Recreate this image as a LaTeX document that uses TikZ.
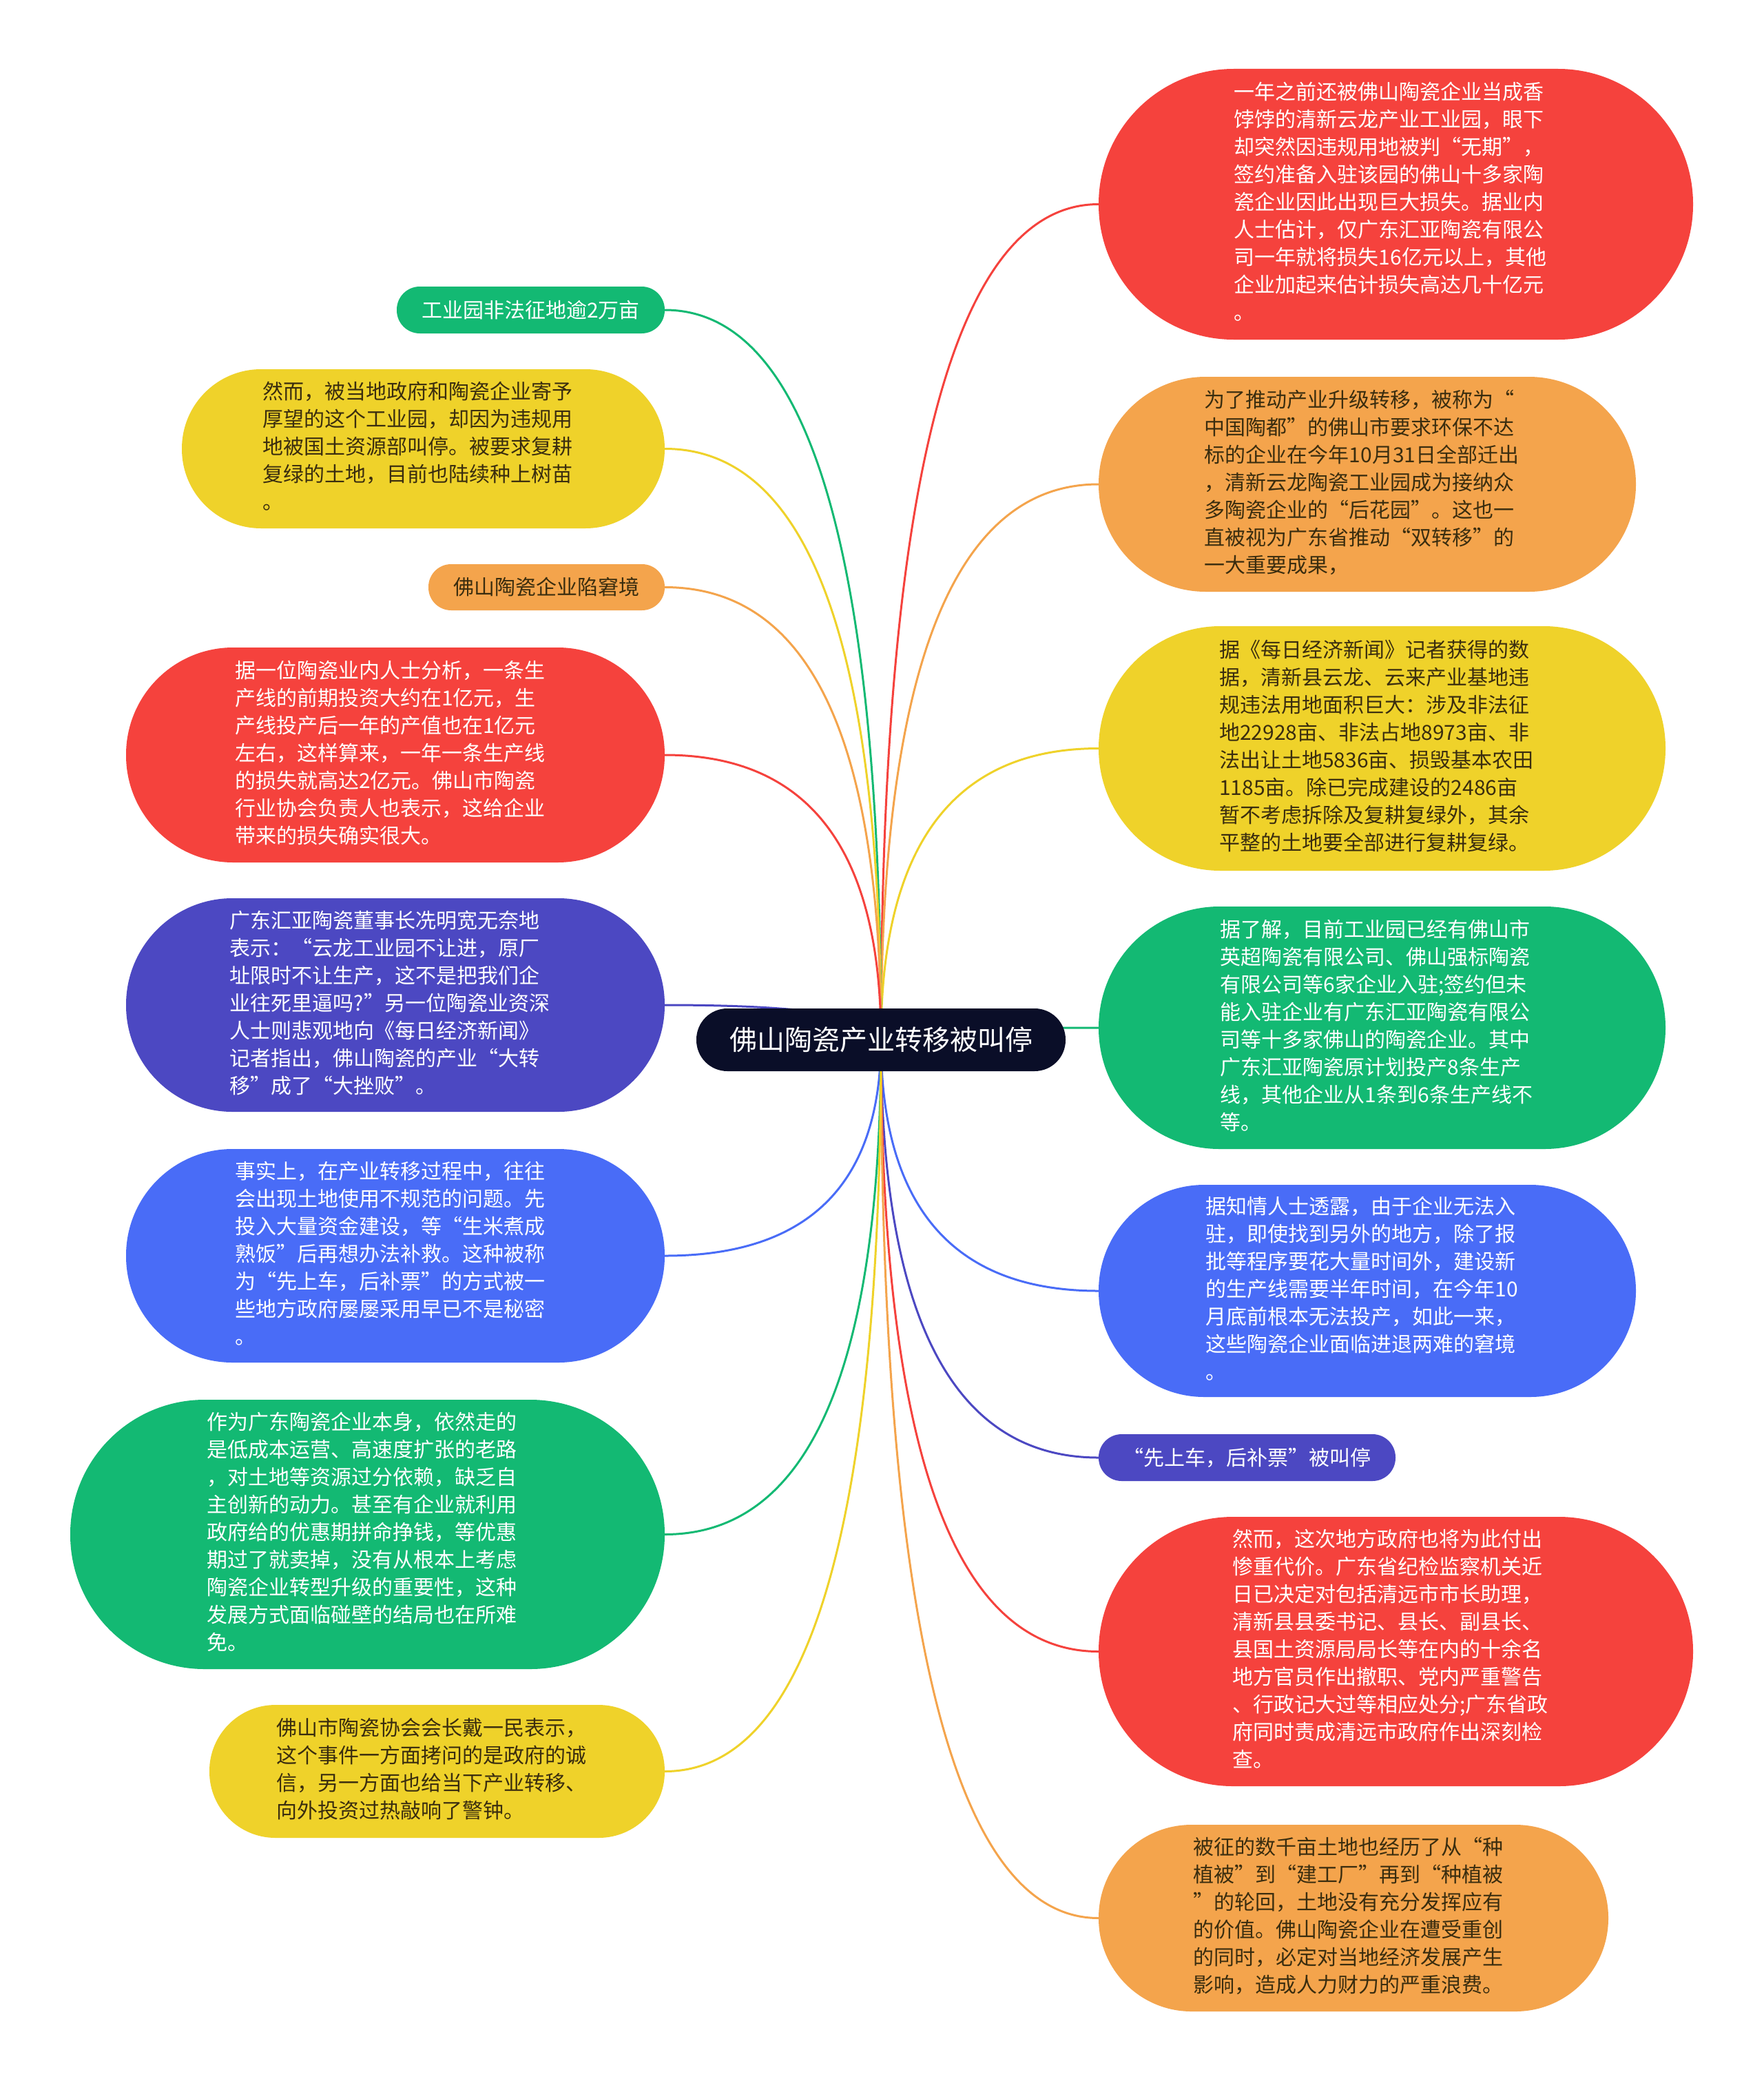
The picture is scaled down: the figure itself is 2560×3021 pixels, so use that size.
\documentclass[tikz,border=0pt]{standalone}
\usepackage{fontspec}
\setmainfont{Noto Sans CJK SC}
\usetikzlibrary{calc}
\pgfdeclarelayer{bg}
\pgfsetlayers{bg,main}
\definecolor{cred}{RGB}{245,66,61}
\definecolor{corange}{RGB}{244,164,76}
\definecolor{cyellow}{RGB}{239,210,42}
\definecolor{cgreen}{RGB}{19,185,115}
\definecolor{cblue}{RGB}{73,108,247}
\definecolor{cpurple}{RGB}{76,72,194}
\definecolor{cnavy}{RGB}{10,14,40}
\definecolor{cdark}{RGB}{58,45,15}
\tikzset{
  pill/.style={shape=rectangle, inner sep=0pt,
    font=\fontsize{30}{40}\selectfont},
  lighttext/.style={text=white},
  darktext/.style={text=cdark},
  linkline/.style={line width=3pt},
}
\newcommand\ptext[1]{\begin{tabular}{@{}l@{\hspace{16pt}}}#1\end{tabular}}
\newcommand\mmlink[2]{%
  \path (ctr.center |- #2) coordinate (q);
  \draw[linkline, #1] (ctr.center) .. controls ($(ctr.center)!0.6667!(q)$) and ($(#2)!0.6667!(q)$) .. (#2);
}
\begin{document}
\begin{tikzpicture}[x=1pt,y=-1pt]
\useasboundingbox (0,0) rectangle (2560,3021);

% center
\node[pill, fill=cnavy, lighttext, minimum width=536, minimum height=91, rounded corners=45,
  font=\fontsize{40}{48}\selectfont] (ctr) at (1279,1509.5) {佛山陶瓷产业转移被叫停};

% right side
\node[pill, fill=cred, lighttext, minimum width=863, minimum height=393, rounded corners=196] (r1) at (2026.5,296.5) {\ptext{%
一年之前还被佛山陶瓷企业当成香\\
饽饽的清新云龙产业工业园，眼下\\
却突然因违规用地被判“无期”，\\
签约准备入驻该园的佛山十多家陶\\
瓷企业因此出现巨大损失。据业内\\
人士估计，仅广东汇亚陶瓷有限公\\
司一年就将损失16亿元以上，其他\\
企业加起来估计损失高达几十亿元\\
。}};

\node[pill, fill=corange, darktext, minimum width=780, minimum height=312, rounded corners=155.5] (r2) at (1985,703) {\ptext{%
为了推动产业升级转移，被称为“\\
中国陶都”的佛山市要求环保不达\\
标的企业在今年10月31日全部迁出\\
，清新云龙陶瓷工业园成为接纳众\\
多陶瓷企业的“后花园”。这也一\\
直被视为广东省推动“双转移”的\\
一大重要成果，}};

\node[pill, fill=cyellow, darktext, minimum width=823, minimum height=355, rounded corners=177] (r3) at (2006.5,1086.5) {\ptext{%
据《每日经济新闻》记者获得的数\\
据，清新县云龙、云来产业基地违\\
规违法用地面积巨大：涉及非法征\\
地22928亩、非法占地8973亩、非\\
法出让土地5836亩、损毁基本农田\\
1185亩。除已完成建设的2486亩\\
暂不考虑拆除及复耕复绿外，其余\\
平整的土地要全部进行复耕复绿。}};

\node[pill, fill=cgreen, lighttext, minimum width=823, minimum height=352, rounded corners=175.5] (r4) at (2006.5,1492) {\ptext{%
据了解，目前工业园已经有佛山市\\
英超陶瓷有限公司、佛山强标陶瓷\\
有限公司等6家企业入驻;签约但未\\
能入驻企业有广东汇亚陶瓷有限公\\
司等十多家佛山的陶瓷企业。其中\\
广东汇亚陶瓷原计划投产8条生产\\
线，其他企业从1条到6条生产线不\\
等。}};

\node[pill, fill=cblue, lighttext, minimum width=780, minimum height=308, rounded corners=153.5] (r5) at (1985,1874) {\ptext{%
据知情人士透露，由于企业无法入\\
驻，即使找到另外的地方，除了报\\
批等程序要花大量时间外，建设新\\
的生产线需要半年时间，在今年10\\
月底前根本无法投产，如此一来，\\
这些陶瓷企业面临进退两难的窘境\\
。}};

\node[pill, fill=cpurple, lighttext, minimum width=431, minimum height=68, rounded corners=33.5] (r6) at (1810.5,2116) {“先上车，后补票”被叫停};

\node[pill, fill=cred, lighttext, minimum width=863, minimum height=391, rounded corners=195] (r7) at (2026.5,2397.5) {\ptext{%
然而，这次地方政府也将为此付出\\
惨重代价。广东省纪检监察机关近\\
日已决定对包括清远市市长助理，\\
清新县县委书记、县长、副县长、\\
县国土资源局局长等在内的十余名\\
地方官员作出撤职、党内严重警告\\
、行政记大过等相应处分;广东省政\\
府同时责成清远市政府作出深刻检\\
查。}};

\node[pill, fill=corange, darktext, minimum width=740, minimum height=271, rounded corners=135] (r8) at (1965,2784.5) {\ptext{%
被征的数千亩土地也经历了从“种\\
植被”到“建工厂”再到“种植被\\
”的轮回，土地没有充分发挥应有\\
的价值。佛山陶瓷企业在遭受重创\\
的同时，必定对当地经济发展产生\\
影响，造成人力财力的严重浪费。}};

% left side
\node[pill, fill=cgreen, lighttext, minimum width=389, minimum height=68, rounded corners=33.5] (l1) at (770.5,450) {工业园非法征地逾2万亩};

\node[pill, fill=cyellow, darktext, minimum width=701, minimum height=231, rounded corners=115] (l2) at (614.5,651.5) {\ptext{%
然而，被当地政府和陶瓷企业寄予\\
厚望的这个工业园，却因为违规用\\
地被国土资源部叫停。被要求复耕\\
复绿的土地，目前也陆续种上树苗\\
。}};

\node[pill, fill=corange, darktext, minimum width=343, minimum height=67, rounded corners=33] (l3) at (793.5,852.5) {佛山陶瓷企业陷窘境};

\node[pill, fill=cred, lighttext, minimum width=782, minimum height=312, rounded corners=155.5] (l4) at (574,1096) {\ptext{%
据一位陶瓷业内人士分析，一条生\\
产线的前期投资大约在1亿元，生\\
产线投产后一年的产值也在1亿元\\
左右，这样算来，一年一条生产线\\
的损失就高达2亿元。佛山市陶瓷\\
行业协会负责人也表示，这给企业\\
带来的损失确实很大。}};

\node[pill, fill=cpurple, lighttext, minimum width=782, minimum height=310, rounded corners=154.5] (l5) at (574,1459) {\ptext{%
广东汇亚陶瓷董事长冼明宽无奈地\\
表示：“云龙工业园不让进，原厂\\
址限时不让生产，这不是把我们企\\
业往死里逼吗?”另一位陶瓷业资深\\
人士则悲观地向《每日经济新闻》\\
记者指出，佛山陶瓷的产业“大转\\
移”成了“大挫败”。}};

\node[pill, fill=cblue, lighttext, minimum width=782, minimum height=310, rounded corners=154.5] (l6) at (574,1823) {\ptext{%
事实上，在产业转移过程中，往往\\
会出现土地使用不规范的问题。先\\
投入大量资金建设，等“生米煮成\\
熟饭”后再想办法补救。这种被称\\
为“先上车，后补票”的方式被一\\
些地方政府屡屡采用早已不是秘密\\
。}};

\node[pill, fill=cgreen, lighttext, minimum width=863, minimum height=391, rounded corners=195] (l7) at (533.5,2227.5) {\ptext{%
作为广东陶瓷企业本身，依然走的\\
是低成本运营、高速度扩张的老路\\
，对土地等资源过分依赖，缺乏自\\
主创新的动力。甚至有企业就利用\\
政府给的优惠期拼命挣钱，等优惠\\
期过了就卖掉，没有从根本上考虑\\
陶瓷企业转型升级的重要性，这种\\
发展方式面临碰壁的结局也在所难\\
免。}};

\node[pill, fill=cyellow, darktext, minimum width=661, minimum height=193, rounded corners=96] (l8) at (634.5,2571.5) {\ptext{%
佛山市陶瓷协会会长戴一民表示，\\
这个事件一方面拷问的是政府的诚\\
信，另一方面也给当下产业转移、\\
向外投资过热敲响了警钟。}};

\begin{pgfonlayer}{bg}
\fill[white] (0,0) rectangle (2560,3021);
\mmlink{cred}{r1.west}
\mmlink{corange}{r2.west}
\mmlink{cyellow}{r3.west}
\mmlink{cgreen}{r4.west}
\mmlink{cblue}{r5.west}
\mmlink{cpurple}{r6.west}
\mmlink{cred}{r7.west}
\mmlink{corange}{r8.west}
\mmlink{cgreen}{l1.east}
\mmlink{cyellow}{l2.east}
\mmlink{corange}{l3.east}
\mmlink{cred}{l4.east}
\mmlink{cpurple}{l5.east}
\mmlink{cblue}{l6.east}
\mmlink{cgreen}{l7.east}
\mmlink{cyellow}{l8.east}
\end{pgfonlayer}
\end{tikzpicture}
\end{document}
